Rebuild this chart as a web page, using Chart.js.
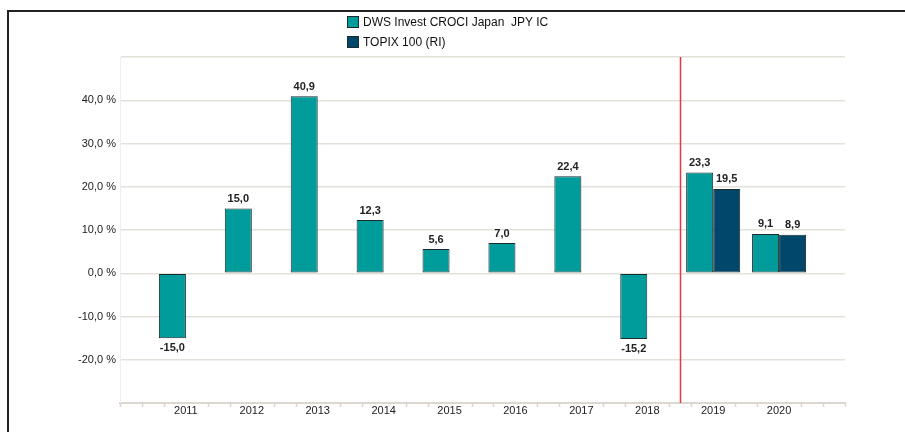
<!DOCTYPE html>
<html>
<head>
<meta charset="utf-8">
<script src="https://cdn.jsdelivr.net/npm/chart.js@4"></script>
<style>
    html, body { margin: 0; padding: 0; background: #fff; }
    body { width: 905px; height: 432px; position: relative; overflow: hidden; font-family: "Liberation Sans", Arial, sans-serif; }
    .frame { position: absolute; left: 7px; top: 10px; right: 0; bottom: 0; border-top: 2px solid #222; border-left: 2px solid #222; }
    .chart-box { position: absolute; left: 0; top: 0; width: 905px; height: 432px; }
    .legend { position: absolute; left: 347px; top: 14px; font-size: 12px; color: #111; }
    .legend div { height: 20px; line-height: 16px; white-space: pre; }
    .legend span { display: inline-block; width: 10px; height: 10px; border: 1px solid #1c2b2b; vertical-align: -2px; margin-right: 4px; }
</style>
</head>
<body>
<div class="frame"></div>
<div class="chart-box"><canvas id="perfChart" width="905" height="432"></canvas></div>
<div class="legend" id="legend"></div>

<script>
// Data
const years = ['', '2011', '2012', '2013', '2014', '2015', '2016', '2017', '2018', '2019', '2020', ''];
const fundValues = [null, -15.0, 15.0, 40.9, 12.3, 5.6, 7.0, 22.4, -15.2, 23.3, 9.1, null];
const indexValues = [null, null, null, null, null, null, null, null, null, 19.5, 8.9, null];
const seriesNames = ['DWS Invest CROCI Japan  JPY IC', 'TOPIX 100 (RI)'];
const seriesColors = ['#009b9b', '#00476b'];
const yTicks = [-20, -10, 0, 10, 20, 30, 40];
const markerAt = 8.5; // between 2018 and 2019

const fmt = v => v.toFixed(1).replace('.', ',');

// Legend (stacked, as in the original)
document.getElementById('legend').innerHTML = seriesNames.map((n, i) =>
    `<div><span style="background:${seriesColors[i]}"></span>${n}</div>`
).join('');

// Value labels above / below each bar
const valueLabels = {
    id: 'valueLabels',
    afterDatasetsDraw(chart) {
        const ctx = chart.ctx;
        ctx.save();
        ctx.font = 'bold 11px "Liberation Sans", Arial, sans-serif';
        ctx.fillStyle = '#222';
        ctx.textAlign = 'center';
        chart.data.datasets.forEach((ds, di) => {
            chart.getDatasetMeta(di).data.forEach((bar, i) => {
                const v = ds.data[i];
                if (v === null || v === undefined) return;
                if (v >= 0) {
                    ctx.textBaseline = 'bottom';
                    ctx.fillText(fmt(v), bar.x, bar.y - 4);
                } else {
                    ctx.textBaseline = 'top';
                    ctx.fillText(fmt(v), bar.x, bar.y + 4);
                }
            });
        });
        ctx.restore();
    }
};

// Small tick marks along the x axis + red separator line
const axisExtras = {
    id: 'axisExtras',
    afterDraw(chart) {
        const ctx = chart.ctx;
        const x = chart.scales.x;
        const area = chart.chartArea;
        const n = years.length - 1;
        ctx.save();
        ctx.strokeStyle = '#d9d5cc';
        ctx.lineWidth = 1.5;
        for (let k = 0; k <= n * 3; k++) {
            if (k % 3 === 0 && k !== 0 && k !== n * 3) continue;
            const px = Math.round(x.getPixelForValue(k / 3)) + 0.5;
            ctx.beginPath();
            ctx.moveTo(px, area.bottom);
            ctx.lineTo(px, area.bottom + 4);
            ctx.stroke();
        }
        const mx = Math.round(x.getPixelForValue(markerAt)) + 0.5;
        ctx.strokeStyle = '#e8343a';
        ctx.lineWidth = 1.5;
        ctx.beginPath();
        ctx.moveTo(mx, area.top);
        ctx.lineTo(mx, area.bottom);
        ctx.stroke();
        ctx.restore();
    }
};

Chart.defaults.font.family = '"Liberation Sans", Arial, sans-serif';
Chart.defaults.color = '#222';

const ctx = document.getElementById('perfChart').getContext('2d');
new Chart(ctx, {
    type: 'bar',
    data: {
        labels: years,
        datasets: [
            { label: seriesNames[0], data: fundValues, backgroundColor: seriesColors[0], borderColor: '#1c2b2b', borderWidth: 1, borderSkipped: false },
            { label: seriesNames[1], data: indexValues, backgroundColor: seriesColors[1], borderColor: '#1c2b2b', borderWidth: 1, borderSkipped: false }
        ]
    },
    options: {
        responsive: false,
        animation: false,
        categoryPercentage: 0.82,
        barPercentage: 1,
        layout: { padding: { left: 0, top: 57, right: 60, bottom: 0 } },
        plugins: {
            legend: { display: false },
            tooltip: { enabled: false }
        },
        scales: {
            x: {
                offset: false,
                grid: { display: false, drawTicks: false, tickLength: 0 },
                border: { color: '#dcd8cf', width: 2 },
                ticks: { font: { size: 11 }, color: '#222', padding: 1, maxRotation: 0, autoSkip: false },
                afterFit: s => { s.height = 29; }
            },
            y: {
                min: -30,
                max: 50,
                grid: { color: '#e4e1da', lineWidth: 1.5, drawTicks: false },
                border: { color: '#f0eeea', width: 1 },
                ticks: {
                    stepSize: 10,
                    padding: 4,
                    font: { size: 11 },
                    color: '#222',
                    callback: v => yTicks.includes(v) ? fmt(v) + ' %' : ''
                },
                afterFit: s => { s.width = 120; }
            }
        }
    },
    plugins: [valueLabels, axisExtras]
});
</script>
</body>
</html>
